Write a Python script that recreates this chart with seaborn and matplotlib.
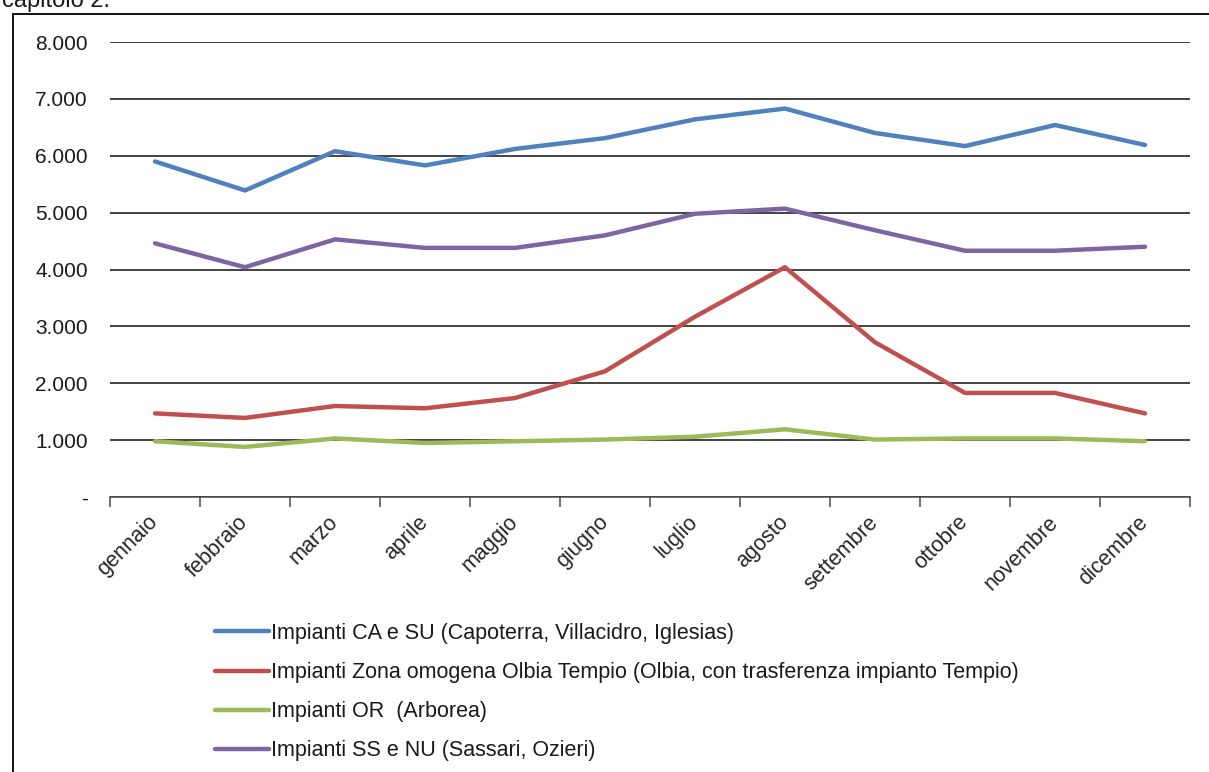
import numpy as np
import pandas as pd
import seaborn as sns
import matplotlib.pyplot as plt
from matplotlib.patches import Rectangle

mesi = ['gennaio', 'febbraio', 'marzo', 'aprile', 'maggio', 'giugno',
        'luglio', 'agosto', 'settembre', 'ottobre', 'novembre', 'dicembre']

serie = ['Impianti CA e SU (Capoterra, Villacidro, Iglesias)',
         'Impianti Zona omogena Olbia Tempio (Olbia, con trasferenza impianto Tempio)',
         'Impianti OR  (Arborea)',
         'Impianti SS e NU (Sassari, Ozieri)']

ca_su = [5900, 5390, 6080, 5830, 6120, 6310, 6640, 6830, 6400, 6170, 6540, 6190]
olbia = [1470, 1390, 1600, 1560, 1740, 2210, 3170, 4040, 2720, 1830, 1830, 1470]
oristano = [980, 880, 1030, 950, 980, 1010, 1060, 1190, 1010, 1030, 1030, 980]
ss_nu = [4460, 4040, 4530, 4380, 4380, 4600, 4980, 5070, 4690, 4330, 4330, 4400]

colori = ['#4F81BD', '#C0504D', '#9BBB59', '#8064A2']

# tabella lunga per seaborn
df = pd.DataFrame({
    'pos': np.tile(np.arange(len(mesi)), 4),
    'valore': ca_su + olbia + oristano + ss_nu,
    'impianto': np.repeat(serie, len(mesi)),
})

sns.set_theme(style='white')
plt.rcParams['font.family'] = ['Liberation Sans', 'DejaVu Sans']
plt.rcParams['text.color'] = '#1a1a1a'

fig = plt.figure(figsize=(12.09, 7.72), dpi=100)
ax = fig.add_axes([110/1209, 1-497/772, 1080/1209, 455/772])

sns.lineplot(data=df, x='pos', y='valore', hue='impianto', hue_order=serie,
             palette=colori, linewidth=3.2, sort=False, ax=ax)

ax.set_xlim(-0.5, 11.5)
ax.set_ylim(0, 8000)
ax.set_xlabel('')
ax.set_ylabel('')

# asse y: etichette con punto come separatore migliaia, zero come "-"
yt = np.arange(0, 8001, 1000)
ax.set_yticks(yt)
ax.set_yticklabels(['-'] + [f'{v:,}'.replace(',', '.') for v in yt[1:]])
ax.tick_params(axis='y', length=0, pad=16, labelsize=15, labelcolor='#1a1a1a')
ax.yaxis.grid(True, color='#222222', linewidth=1.2)
ax.set_axisbelow(True)

# asse x: tacche ai bordi, etichette al centro
ax.set_xticks(np.arange(-0.5, 12, 1))
ax.set_xticklabels([])
ax.set_xticks(np.arange(len(mesi)), minor=True)
ax.set_xticklabels(mesi, minor=True, rotation=45, ha='right',
                   rotation_mode='anchor', va='center', fontsize=15.5)
ax.tick_params(axis='x', which='major', bottom=True, length=7, width=1.1,
               color='#4a4a4a', direction='out')
ax.tick_params(axis='x', which='minor', bottom=False, length=0, pad=16)

for s in ['top', 'left', 'right']:
    ax.spines[s].set_visible(False)
ax.spines['bottom'].set_color('#4a4a4a')
ax.spines['bottom'].set_linewidth(1.1)

handles, labels = ax.get_legend_handles_labels()
ax.legend(handles, labels, loc='upper left', bbox_to_anchor=(215/1209, 1-623/772),
          bbox_transform=fig.transFigure, frameon=False, fontsize=15.5,
          handlelength=2.5, handletextpad=0.1, labelspacing=0.84, borderpad=0,
          borderaxespad=0)

# cornice esterna e testo tagliato in alto
fig.add_artist(Rectangle((13/1209, -0.1), 1.2, 1.1 - 14/772, transform=fig.transFigure,
                         fill=False, edgecolor='black', linewidth=1.3))
fig.text(2/1209, 1-7/772, 'capitolo 2.', fontsize=17, va='baseline', ha='left')

fig.savefig('out.png', dpi=100)
